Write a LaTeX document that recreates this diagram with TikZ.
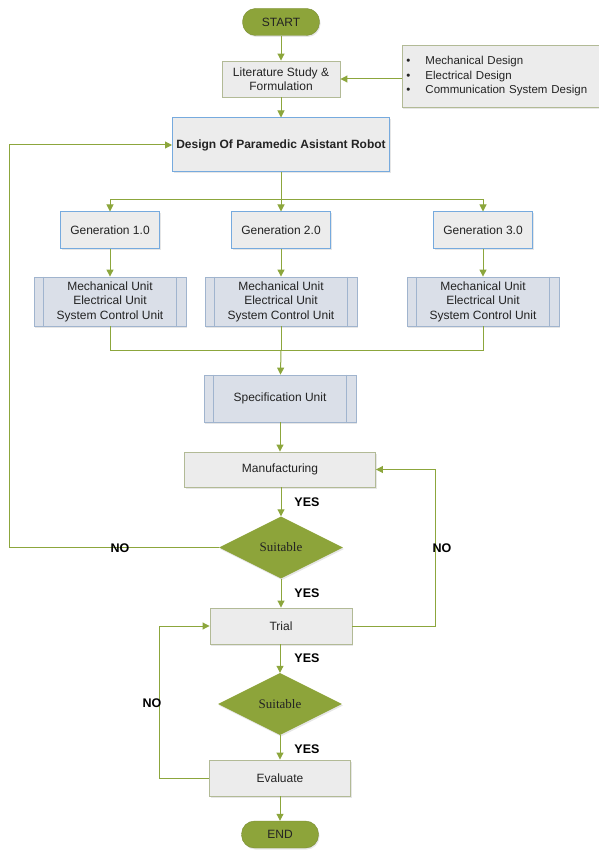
\documentclass[tikz,border=0pt]{standalone}
\usepackage{fontspec}
\setmainfont{Liberation Sans}
\newfontfamily\suitfont{Liberation Serif}
\usetikzlibrary{shapes.geometric,arrows.meta,shadows}
\definecolor{flowgreen}{RGB}{140,166,60}
\definecolor{termgreen}{RGB}{141,164,58}
\definecolor{boxgray}{RGB}{236,236,236}
\definecolor{grayedge}{RGB}{178,186,150}
\definecolor{blueedge}{RGB}{118,170,222}
\definecolor{unitfill}{RGB}{218,223,232}
\definecolor{unitedge}{RGB}{160,180,206}
\definecolor{textgray}{RGB}{35,35,35}

\begin{document}
\begin{tikzpicture}[x=1pt,y=-1pt,
    every node/.style={align=center, inner sep=2pt, text=textgray, font=\fontsize{12}{14.5}\selectfont},
    softshadow/.style={drop shadow={opacity=0.2, shadow xshift=1pt, shadow yshift=-1.5pt}},
    term/.style={draw=termgreen!85!black, fill=termgreen, rounded corners=13pt, minimum width=77pt, minimum height=27pt, softshadow},
    graybox/.style={draw=grayedge, fill=boxgray, line width=0.9pt, softshadow},
    genbox/.style={draw=blueedge, fill=boxgray, line width=1pt, softshadow},
    unitbox/.style={draw=unitedge, fill=unitfill, line width=0.8pt, minimum width=152pt, softshadow},
    decision/.style={diamond, aspect=2, fill=termgreen, inner sep=0pt, minimum width=124pt, minimum height=62pt, font=\suitfont\fontsize{13}{15}\selectfont, softshadow},
    flow/.style={draw=flowgreen, line width=1pt, -{Triangle[length=7pt,width=7pt]}},
    link/.style={draw=flowgreen, line width=1pt},
    answer/.style={text=black, font=\bfseries\fontsize{12.5}{14}\selectfont}]
  \useasboundingbox (0,0) rectangle (598,850);

  % top part
  \node[term] (start) at (281,22) {START};
  \node[graybox, minimum width=118pt, minimum height=36pt] (lit) at (281,79) {Literature Study \&\\Formulation};
  \node[graybox, anchor=north west, text width=192pt, inner sep=4pt, minimum height=62pt, align=left,
        font=\fontsize{11.5}{14.5}\selectfont] (req) at (402,45)
        {\textbullet\hspace{15pt}Mechanical Design\\
         \textbullet\hspace{15pt}Electrical Design\\
         \textbullet\hspace{15pt}Communication System Design};
  \node[genbox, minimum width=217pt, minimum height=54pt, font=\bfseries\fontsize{12}{14.5}\selectfont] (design) at (281,145) {Design Of Paramedic Asistant Robot};

  % generations
  \foreach \n/\x in {1/110, 2/281, 3/483} {
    \node[genbox, minimum width=99pt, minimum height=36pt] (gen\n) at (\x,230) {Generation \n.0};
    \node[unitbox, minimum height=49pt] (unit\n) at (\x,301.5) {Mechanical Unit\\Electrical Unit\\System Control Unit};
  }
  \node[unitbox, minimum height=47pt] (spec) at (280,398.5) {Specification Unit};
  \foreach \u in {unit1, unit2, unit3, spec}
    \draw[unitedge, line width=0.8pt] ([xshift=10pt]\u.north west) -- ([xshift=10pt]\u.south west)
      ([xshift=-10pt]\u.north east) -- ([xshift=-10pt]\u.south east);

  % bottom part
  \node[graybox, minimum width=191pt, minimum height=35pt] (manuf) at (280,469.5) {Manufacturing};
  \node[decision] (dec1) at (281,547.5) {Suitable};
  \node[graybox, minimum width=142pt, minimum height=36pt] (trial) at (281,626) {Trial};
  \node[decision] (dec2) at (280,704) {Suitable};
  \node[graybox, minimum width=141pt, minimum height=36pt] (eval) at (280,778) {Evaluate};
  \node[term] (end) at (280,834.5) {END};

  % connectors
  \coordinate (split) at (281,200);
  \coordinate (merge) at (281,350);
  \draw[flow] (start) -- (lit);
  \draw[flow] (req.west |- lit.east) -- (lit.east);
  \draw[flow] (lit) -- (design);
  \draw[link] (design) -- (split);
  \foreach \n in {1,2,3} {
    \draw[flow] (split) -| (gen\n);
    \draw[flow] (gen\n) -- (unit\n);
    \draw[link] (unit\n) |- (merge);
  }
  \draw[flow] (merge) -- (spec);
  \draw[flow] (spec) -- (spec |- manuf.north);
  \draw[flow] (manuf.south -| dec1) -- (dec1);
  \draw[flow] (dec1) -- (trial);
  \draw[flow] (trial.south -| dec2) -- (dec2);
  \draw[flow] (dec2) -- (eval);
  \draw[flow] (eval) -- (end);
  \draw[flow] (dec1.west) -- ++(-209,0) |- (design.west);
  \draw[flow] (trial.east) -- ++(83,0) |- (manuf.east);
  \draw[flow] (eval.west) -- ++(-50,0) |- (trial.west);

  % answers
  \node[answer] (yes1) at (307,502) {YES};
  \node[answer] (yes2) at (307,593) {YES};
  \node[answer] (yes3) at (307,658) {YES};
  \node[answer] (yes4) at (307,749) {YES};
  \node[answer] (no1) at (120,548) {NO};
  \node[answer] (no2) at (442,548) {NO};
  \node[answer] (no3) at (152,703) {NO};
\end{tikzpicture}
\end{document}
